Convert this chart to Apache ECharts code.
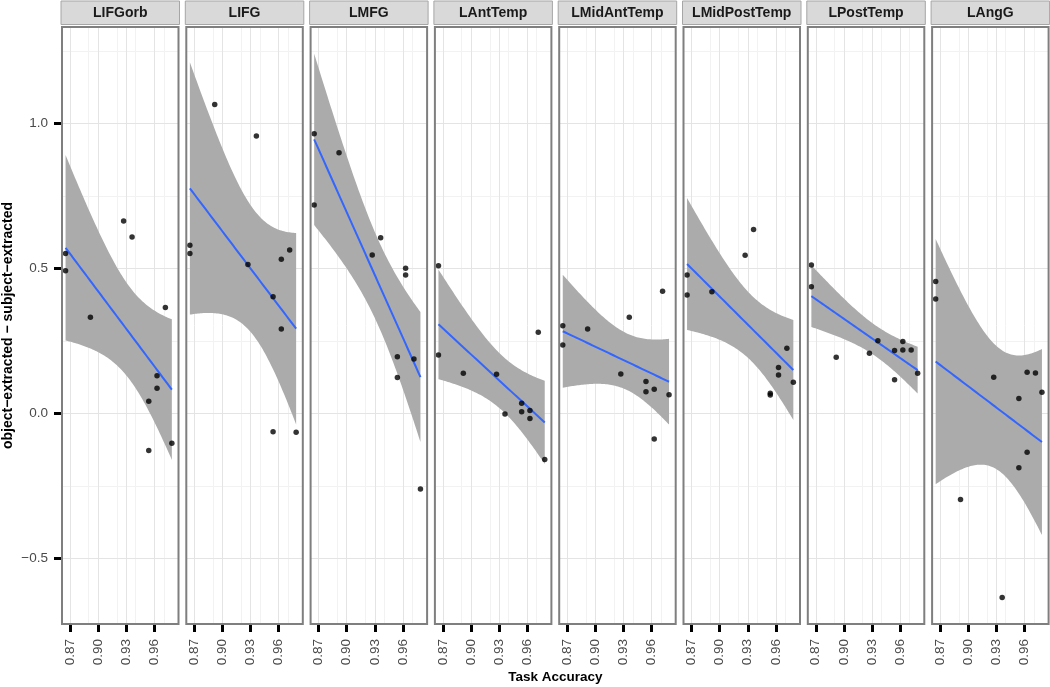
<!DOCTYPE html>
<html>
<head>
<meta charset="utf-8">
<script src="https://cdn.jsdelivr.net/npm/echarts@6/dist/echarts.min.js"></script>
<style>html,body{margin:0;padding:0;background:#fff}#chart{width:1050px;height:687px}</style>
</head>
<body>
<div id="chart"></div>
<script>
// ---------------- data ----------------
const panels = ['LIFGorb', 'LIFG', 'LMFG', 'LAntTemp', 'LMidAntTemp', 'LMidPostTemp', 'LPostTemp', 'LAngG'];
// task accuracy per subject (same subjects in every panel)
const accuracy = [0.8653, 0.8653, 0.8918, 0.9272, 0.9362, 0.9540, 0.9540, 0.9628, 0.9628, 0.9717, 0.9786];
// object-extracted minus subject-extracted, per region, in subject order
const LIFGorb      = [0.552, 0.492, 0.332, 0.664, 0.609, 0.042, -0.128, 0.130, 0.087, 0.366, -0.103];
const LIFG         = [0.580, 0.552, 1.066, 0.514, 0.957, 0.403, -0.063, 0.532, 0.291, 0.564, -0.065];
const LMFG         = [0.965, 0.719, 0.899, 0.547, 0.606, 0.196, 0.124, 0.501, 0.478, 0.188, -0.260];
const LAntTemp     = [0.510, 0.202, 0.139, 0.135, -0.002, 0.035, 0.006, 0.010, -0.017, 0.280, -0.159];
const LMidAntTemp  = [0.303, 0.236, 0.291, 0.136, 0.332, 0.110, 0.075, 0.084, -0.088, 0.422, 0.065];
const LMidPostTemp = [0.478, 0.409, 0.420, 0.546, 0.635, 0.070, 0.064, 0.159, 0.133, 0.225, 0.108];
const LPostTemp    = [0.512, 0.437, 0.194, 0.208, 0.251, 0.217, 0.116, 0.248, 0.219, 0.219, 0.139];
const LAngG        = [0.455, 0.395, -0.297, 0.125, -0.635, 0.052, -0.187, 0.142, -0.134, 0.140, 0.073];
const panelValues = [LIFGorb, LIFG, LMFG, LAntTemp, LMidAntTemp, LMidPostTemp, LPostTemp, LAngG];

const xTicks = [0.87, 0.90, 0.93, 0.96];
const xMinorTicks = [0.885, 0.915, 0.945, 0.975];
const yTicks = [-0.5, 0.0, 0.5, 1.0];
const yMinorTicks = [-0.25, 0.25, 0.75, 1.25];
const xRange = [0.8615, 0.9857];
const yRange = [-0.726, 1.333];
const xTitle = 'Task Accuracy';
const yTitle = 'object\u2212extracted \u2212 subject\u2212extracted';

// ---------------- layout ----------------
const P_LEFT0 = 62, P_STEP = 124.3, P_W = 116.5, P_TOP = 27, P_H = 597;
const FONT = '"Liberation Sans", Arial, Helvetica, sans-serif';

// ---------------- linear fit with 95% CI (like geom_smooth(method = lm)) ----------------
const T975 = {1:12.706,2:4.303,3:3.182,4:2.776,5:2.571,6:2.447,7:2.365,8:2.306,9:2.262,10:2.228,11:2.201,12:2.179,13:2.160,14:2.145,15:2.131,16:2.120,17:2.110,18:2.101,19:2.093,20:2.086};
function fitLm(xs, ys) {
  const n = xs.length;
  const mx = xs.reduce((a, b) => a + b, 0) / n;
  const my = ys.reduce((a, b) => a + b, 0) / n;
  let sxx = 0, sxy = 0;
  for (let i = 0; i < n; i++) { sxx += (xs[i] - mx) ** 2; sxy += (xs[i] - mx) * (ys[i] - my); }
  const b = sxy / sxx, a = my - b * mx;
  let rss = 0;
  for (let i = 0; i < n; i++) { const r = ys[i] - (a + b * xs[i]); rss += r * r; }
  const s = Math.sqrt(rss / (n - 2));
  const t = T975[n - 2] || 1.96;
  const x0 = Math.min(...xs), x1 = Math.max(...xs);
  const line = [], upper = [], lower = [];
  const K = 80;
  for (let k = 0; k < K; k++) {
    const x = x0 + (x1 - x0) * k / (K - 1);
    const yh = a + b * x;
    const se = s * Math.sqrt(1 / n + (x - mx) ** 2 / sxx);
    line.push([x, yh]); upper.push([x, yh + t * se]); lower.push([x, yh - t * se]);
  }
  return { line, upper, lower };
}

const grids = [], xAxes = [], yAxes = [], series = [], graphics = [];
const tickStyle = { color: '#000', width: 3 };
const labelColor = '#4a4a4a';

panels.forEach((name, i) => {
  const left = P_LEFT0 + P_STEP * i;
  grids.push({ left: left, top: P_TOP, width: P_W, height: P_H, show: true, backgroundColor: '#fff', borderWidth: 0 });
  xAxes.push({
    gridIndex: i, type: 'value', min: xRange[0], max: xRange[1], position: 'bottom',
    axisLine: { show: false, onZero: false }, splitLine: { show: false },
    axisTick: { show: true, customValues: xTicks, length: 8, lineStyle: tickStyle },
    axisLabel: { show: true, customValues: xTicks, rotate: 90, margin: 15, fontSize: 13.5, color: labelColor, fontFamily: FONT,
      formatter: v => v.toFixed(2) }
  });
  yAxes.push({
    gridIndex: i, type: 'value', min: yRange[0], max: yRange[1], position: 'left',
    axisLine: { show: false, onZero: false }, splitLine: { show: false },
    axisTick: { show: i === 0, customValues: yTicks, length: 8, lineStyle: tickStyle },
    axisLabel: { show: i === 0, customValues: yTicks, margin: 14, fontSize: 13.5, color: labelColor, fontFamily: FONT,
      formatter: v => (v < 0 ? '\u2212' : '') + Math.abs(v).toFixed(1) }
  });

  const mk = (key, vals, color) => vals.map(v => ({ [key]: v, lineStyle: { color: color, width: 1, type: 'solid' } }));
  series.push({
    type: 'line', xAxisIndex: i, yAxisIndex: i, data: [], z: 1, silent: true,
    markLine: {
      z: 1, silent: true, symbol: ['none', 'none'], animation: false, label: { show: false },
      emphasis: { disabled: true },
      data: [].concat(mk('xAxis', xMinorTicks, '#f2f2f2'), mk('yAxis', yMinorTicks, '#f2f2f2'),
                      mk('xAxis', xTicks, '#e4e4e4'), mk('yAxis', yTicks, '#e4e4e4'))
    }
  });

  const ys = panelValues[i];
  const fit = fitLm(accuracy, ys);
  series.push({
    type: 'custom', xAxisIndex: i, yAxisIndex: i, z: 2, silent: true,
    data: [[fit.line[0][0], fit.line[0][1]]],
    renderItem: (params, api) => {
      const pts = fit.upper.map(p => api.coord(p)).concat(fit.lower.slice().reverse().map(p => api.coord(p)));
      return { type: 'polygon', shape: { points: pts }, style: { fill: '#ababab' } };
    }
  });
  series.push({
    type: 'line', xAxisIndex: i, yAxisIndex: i, z: 3, silent: true,
    data: fit.line, showSymbol: false, symbol: 'none',
    lineStyle: { color: '#3366FF', width: 2 }
  });
  series.push({
    type: 'scatter', xAxisIndex: i, yAxisIndex: i, z: 4, silent: true,
    data: accuracy.map((x, k) => [x, ys[k]]),
    symbolSize: 5.5, itemStyle: { color: '#000' }
  });

  // panel border
  graphics.push({ type: 'rect', z: 100, silent: true,
    shape: { x: left, y: P_TOP, width: P_W, height: P_H },
    style: { fill: 'none', stroke: '#7f7f7f', lineWidth: 2 } });
  // strip
  graphics.push({ type: 'rect', z: 100, silent: true,
    shape: { x: left - 1, y: 1, width: P_W + 2, height: 23.5 },
    style: { fill: '#d9d9d9', stroke: '#a6a6a6', lineWidth: 1 } });
  graphics.push({ type: 'text', z: 101, silent: true, x: left + P_W / 2, y: 13,
    style: { text: name, align: 'center', verticalAlign: 'middle', fill: '#1a1a1a',
      font: 'bold 14px ' + FONT } });
});

graphics.push({ type: 'text', silent: true, x: 8, y: P_TOP + P_H / 2, rotation: Math.PI / 2,
  style: { text: yTitle, align: 'center', verticalAlign: 'middle', fill: '#000', font: 'bold 14px ' + FONT } });
graphics.push({ type: 'text', silent: true, x: P_LEFT0 + (P_STEP * 7 + P_W) / 2, y: 677,
  style: { text: xTitle, align: 'center', verticalAlign: 'middle', fill: '#000', font: 'bold 13.5px ' + FONT } });

const chart = echarts.init(document.getElementById('chart'), null, { renderer: 'canvas' });
chart.setOption({
  animation: false,
  backgroundColor: '#fff',
  grid: grids, xAxis: xAxes, yAxis: yAxes, series: series, graphic: graphics
});
</script>
</body>
</html>
